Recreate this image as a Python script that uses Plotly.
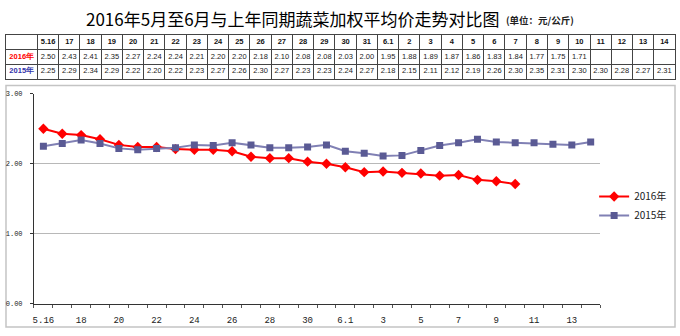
import plotly.graph_objects as go

dates = ["5.16", "17", "18", "19", "20", "21", "22", "23", "24", "25", "26", "27", "28", "29", "30", "31",
         "6.1", "2", "3", "4", "5", "6", "7", "8", "9", "10", "11", "12", "13", "14"]
price_2016 = [2.50, 2.43, 2.41, 2.35, 2.27, 2.24, 2.24, 2.21, 2.20, 2.20, 2.18, 2.10, 2.08, 2.08, 2.03, 2.00,
              1.95, 1.88, 1.89, 1.87, 1.86, 1.83, 1.84, 1.77, 1.75, 1.71, None, None, None, None]
price_2015 = [2.25, 2.29, 2.34, 2.29, 2.22, 2.20, 2.22, 2.23, 2.27, 2.26, 2.30, 2.27, 2.23, 2.23, 2.24, 2.27,
              2.18, 2.15, 2.11, 2.12, 2.19, 2.26, 2.30, 2.35, 2.31, 2.30, 2.30, 2.28, 2.27, 2.31]
series_names = ["2016年", "2015年"]
title_text = "2016年5月至6月与上年同期蔬菜加权平均价走势对比图"
unit_text = "(单位：元/公斤)"

W, H = 680, 336


def px(x):
    return x / W


def py(y):
    return 1 - y / H


def fmt(v):
    return "" if v is None else f"{v:.2f}"


idx = list(range(len(dates)))
n = len(dates)

fig = go.Figure()

# ---- data table (drawn on its own axes: grid lines = cell borders, text trace = cell contents)
label_col_units = 1.48  # width of the row-label column relative to a date column
col_edges = [-label_col_units] + [i for i in range(n + 1)]
label_x = -label_col_units / 2
row_y = {"header": 2.5, "a": 1.5, "b": 0.5}

tx, ty, tt, tc = [], [], [], []
for i, d in enumerate(dates):
    tx.append(i + 0.5); ty.append(row_y["header"]); tt.append(f"<b>{d}</b>"); tc.append("#111111")
for i, (a, b) in enumerate(zip(price_2016, price_2015)):
    tx.append(i + 0.5); ty.append(row_y["a"]); tt.append(fmt(a)); tc.append("#222222")
    tx.append(i + 0.5); ty.append(row_y["b"]); tt.append(fmt(b)); tc.append("#222222")
tx += [label_x, label_x]
ty += [row_y["a"], row_y["b"]]
tt += [f"<b>{series_names[0]}</b>", f"<b>{series_names[1]}</b>"]
tc += ["#ff0000", "#3333aa"]

fig.add_trace(go.Scatter(
    x=tx, y=ty, text=tt, mode="text", xaxis="x2", yaxis="y2", showlegend=False,
    textfont=dict(family="Liberation Sans, Arial", size=7.5, color=tc),
    hoverinfo="skip",
))

# ---- line chart
fig.add_trace(go.Scatter(
    x=idx, y=price_2016, name=series_names[0], mode="lines+markers",
    line=dict(color="#ff0000", width=2),
    marker=dict(symbol="diamond", size=8, color="#ff0000"),
    connectgaps=False,
))
fig.add_trace(go.Scatter(
    x=idx, y=price_2015, name=series_names[1], mode="lines+markers",
    line=dict(color="#8080b4", width=2),
    marker=dict(symbol="square", size=7, color="#5a5a94"),
))

fig.update_layout(
    width=W, height=H,
    margin=dict(l=0, r=0, t=0, b=0),
    paper_bgcolor="white", plot_bgcolor="white",
    showlegend=True,
    legend=dict(x=px(594), y=py(207), xanchor="left", yanchor="middle",
                bgcolor="rgba(0,0,0,0)", font=dict(family="Noto Sans CJK SC", size=10, color="#222222"),
                itemwidth=30, tracegroupgap=0),
    xaxis=dict(domain=[px(33), px(600)], range=[-0.5, n - 0.5],
               tickmode="array", tickvals=idx[::2], ticktext=dates[::2],
               ticks="", showgrid=False, zeroline=False,
               showline=True, linecolor="#333333", linewidth=1,
               tickfont=dict(family="Liberation Mono, DejaVu Sans Mono", size=9, color="#222222"),
               ticklabelstandoff=8,
               minor=dict(tickmode="linear", tick0=-0.5, dtick=1, ticks="outside", ticklen=3,
                          tickcolor="#555555", showgrid=False)),
    yaxis=dict(domain=[py(307), py(92)], range=[0, 3], tickmode="linear", tick0=0, dtick=1,
               tickformat=".2f", ticks="outside", ticklen=3, tickcolor="#333333",
               showgrid=True, gridcolor="#b8b8b8", gridwidth=1, zeroline=False,
               showline=True, linecolor="#333333", linewidth=1,
               tickfont=dict(family="Liberation Mono, DejaVu Sans Mono", size=7, color="#222222"),
               ticklabelstandoff=6),
    xaxis2=dict(domain=[px(5), px(675)], range=[col_edges[0], col_edges[-1]], anchor="y2",
                tickmode="array", tickvals=col_edges, showticklabels=False, ticks="",
                showgrid=True, gridcolor="#444444", gridwidth=1, zeroline=False,
                showline=True, mirror=True, linecolor="#444444", linewidth=1, fixedrange=True),
    yaxis2=dict(domain=[py(76.5), py(32)], range=[0, 3], anchor="x2",
                tickmode="array", tickvals=[0, 1, 2, 3], showticklabels=False, ticks="",
                showgrid=True, gridcolor="#444444", gridwidth=1, zeroline=False,
                showline=True, mirror=True, linecolor="#444444", linewidth=1, fixedrange=True),
    shapes=[dict(type="rect", xref="paper", yref="paper", x0=px(5), x1=px(675), y0=py(331), y1=py(83.5),
                 line=dict(color="#c4c4c4", width=1.5), layer="below")],
    annotations=[
        dict(text=title_text, xref="paper", yref="paper", x=px(502), y=py(15), xanchor="right",
             yanchor="middle", showarrow=False,
             font=dict(family="Noto Sans CJK SC", size=17, color="#000000")),
        dict(text=f"<b>{unit_text}</b>", xref="paper", yref="paper", x=px(504), y=py(16), xanchor="left",
             yanchor="middle", showarrow=False,
             font=dict(family="Noto Sans CJK SC", size=9.5, color="#222222")),
    ],
)

fig.write_html("out.html")
